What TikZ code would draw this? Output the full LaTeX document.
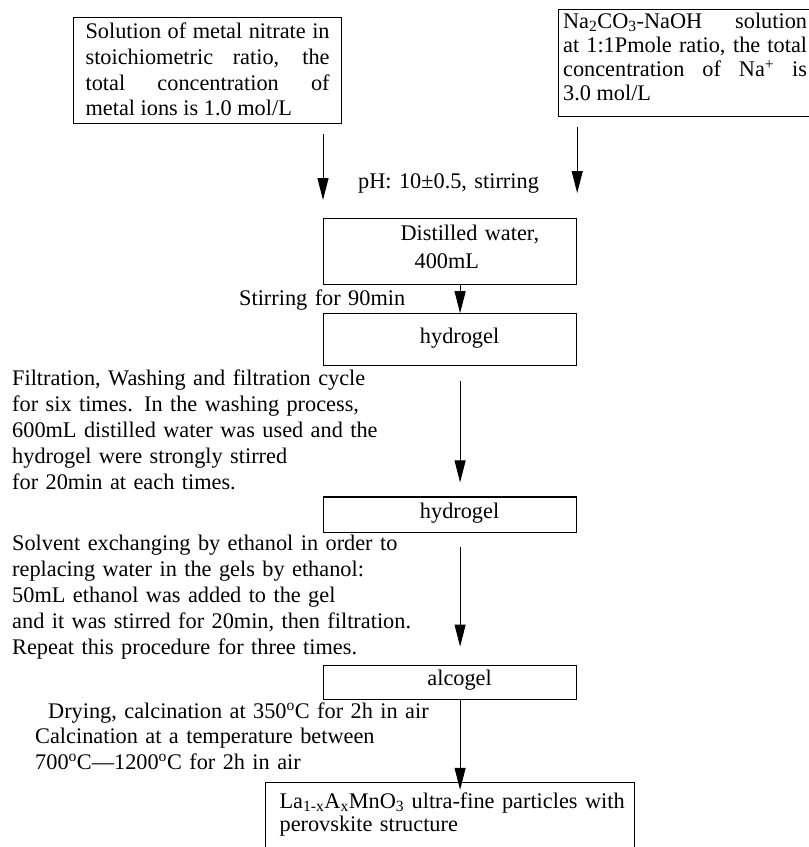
\documentclass[tikz,border=0pt]{standalone}
\usepackage{fontspec}
\setmainfont{Liberation Serif}
\usetikzlibrary{arrows.meta,positioning}

\begin{document}
\begin{tikzpicture}[
  x=1pt,
  y=-1pt,
  font={\fontsize{22.3pt}{26pt}\selectfont},
  >={Triangle[length=22pt,width=11pt]},
  feed/.style={
    draw=black,
    line width=1.2pt,
    align=justify,
    text width=244pt,
    inner xsep=12pt,
    inner ysep=0pt,
    anchor=north west
  },
  stage/.style={
    draw=black,
    line width=1.2pt,
    align=center,
    text width=253pt,
    inner xsep=0pt,
    inner ysep=0pt,
    anchor=north west
  },
  product/.style={
    stage,
    align=left,
    text width=341pt,
    inner xsep=14pt,
    font={\fontsize{22.3pt}{23pt}\selectfont}
  },
  remark/.style={
    inner sep=0pt,
    align=left,
    text width=450pt,
    anchor=base west
  },
  flow/.style={->,line width=1pt,draw=black}
]
  \path[use as bounding box,fill=white] (0,0) rectangle (809,847);

  \node[feed,text height=21pt,text depth=84.5pt,
        font={\fontsize{22.3pt}{25.7pt}\selectfont}] (nitrate) at (73,17) {
    Solution of metal nitrate in\linebreak
    stoichiometric ratio, the\linebreak
    total concentration of\linebreak
    metal ions is 1.0 mol/L
  };

  \node[feed,inner xsep=5pt,text height=19pt,text depth=87.5pt,
        font={\fontsize{22.3pt}{24pt}\selectfont}] (soda) at (557.5,9) {
    Na\textsubscript{2}CO\textsubscript{3}-NaOH solution\linebreak
    at 1:1Pmole ratio, the total\linebreak
    concentration of Na\textsuperscript{+} is\linebreak
    3.0 mol/L
  };

  \node[stage,align=left,text height=22pt,text depth=44pt] (distilled) at (323,218) {
    \hspace*{77pt}Distilled water,\\[2pt]
    \hspace*{91pt}400mL
  };

  \node[stage,below=28pt of distilled,text height=30pt,text depth=21.5pt] (hydro1) {\hspace*{19pt}hydrogel};

  \node[stage,below=130.5pt of hydro1,text height=21pt,text depth=14.5pt] (hydro2) {\hspace*{19pt}hydrogel};

  \node[stage,below=131.5pt of hydro2,text height=20.5pt,text depth=14pt] (alco) {\hspace*{19pt}alcogel};

  \node[product,below=81.5pt of alco,text height=26pt,text depth=54pt] (particles) {
    \mbox{La\textsubscript{1-x}A\textsubscript{x}MnO\textsubscript{3} ultra-fine particles with}\\
    perovskite structure
  };

  \node[remark] (ph) at (358,188) {pH: 10±0.5, stirring};

  \node[remark] (stir) at (239,305) {Stirring for 90min};

  \node[remark] (wash) at (12,385) {
    Filtration, Washing and filtration cycle\\
    for six times. In the washing process,\\
    600mL distilled water was used and the\\
    hydrogel were strongly stirred\\
    for 20min at each times.
  };

  \node[remark] (solvent) at (12,550) {
    Solvent exchanging by ethanol in order to\\
    replacing water in the gels by ethanol:\\
    50mL ethanol was added to the gel\\
    and it was stirred for 20min, then filtration.\\
    Repeat this procedure for three times.
  };

  \node[remark,font={\fontsize{22.3pt}{25.5pt}\selectfont}] (drying) at (35,718) {
    \hspace*{13pt}Drying, calcination at 350\textsuperscript{o}C for 2h in air\\
    Calcination at a temperature between\\
    700\textsuperscript{o}C—1200\textsuperscript{o}C for 2h in air
  };

  \draw[flow] ([yshift=-10.5pt]nitrate.south -| distilled.north west) -- ([yshift=18pt]distilled.north west);
  \draw[flow] ([yshift=-10.5pt]soda.south -| distilled.north east) -- ([yshift=25pt]distilled.north east);
  \draw[flow] ([xshift=10pt]distilled.south) -- ([xshift=10pt]hydro1.north);
  \draw[flow] ([xshift=10pt,yshift=-15pt]hydro1.south) -- ([xshift=10pt,yshift=14pt]hydro2.north);
  \draw[flow] ([xshift=10pt,yshift=-13.5pt]hydro2.south) -- ([xshift=10pt,yshift=18pt]alco.north);
  \draw[flow] ([xshift=10pt]alco.south) -- ([xshift=10pt,yshift=-8pt]alco.south |- particles.north);
\end{tikzpicture}
\end{document}
